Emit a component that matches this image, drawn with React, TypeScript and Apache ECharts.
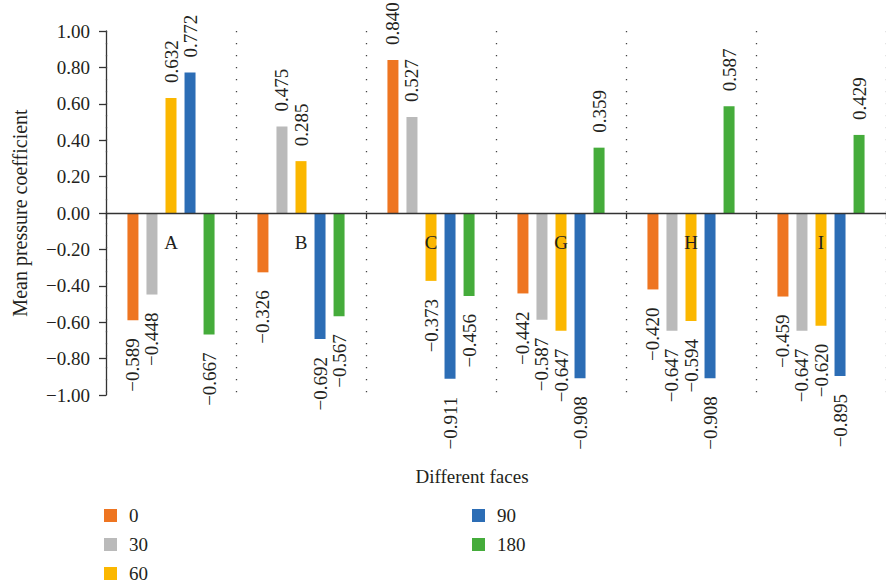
import React, { useEffect, useRef } from "react";
import * as echarts from "echarts";

const categories = ["A", "B", "C", "G", "H", "I"];
const seriesNames = ["0", "30", "60", "90", "180"];
const values0 = [-0.589, -0.326, 0.84, -0.442, -0.42, -0.459];
const values30 = [-0.448, 0.475, 0.527, -0.587, -0.647, -0.647];
const values60 = [0.632, 0.285, -0.373, -0.647, -0.594, -0.62];
const values90 = [0.772, -0.692, -0.911, -0.908, -0.908, -0.895];
const values180 = [-0.667, -0.567, -0.456, 0.359, 0.587, 0.429];
const yTicks = { min: -1, max: 1, interval: 0.2 };

const colors = ["#EE7521", "#BABABA", "#FBB700", "#2C6DB5", "#45AC3B"];
const FONT = "'Liberation Serif', 'Times New Roman', serif";
const TXT = "#231f20";

const fmt = (v: number, d: number) => {
  const s = Math.abs(v).toFixed(d);
  return v < 0 ? "\u2212" + s : s;
};

export default function App() {
  const ref = useRef<HTMLDivElement>(null);
  useEffect(() => {
    if (!ref.current) return;
    const chart = echarts.init(ref.current, undefined, { renderer: "svg" });
    const all = [values0, values30, values60, values90, values180];
    const posLabel = {
      show: true,
      position: "top",
      rotate: 90,
      align: "left",
      verticalAlign: "middle",
      distance: 15,
    };
    const negLabel = {
      show: true,
      position: "bottom",
      rotate: 90,
      align: "right",
      verticalAlign: "middle",
      distance: 18,
    };
    const series = all.map((vals, i) => ({
      name: seriesNames[i],
      type: "bar",
      barWidth: 11,
      barGap: "73%",
      itemStyle: { color: colors[i] },
      label: {
        fontFamily: FONT,
        fontSize: 19,
        color: TXT,
        formatter: (p: any) => fmt(p.value, 3),
      },
      data: vals.map((v) => ({ value: v, label: v >= 0 ? posLabel : negLabel })),
    }));
    const legendCommon = {
      orient: "vertical",
      icon: "rect",
      padding: 0,
      itemWidth: 13,
      itemHeight: 13,
      itemGap: 10,
      textStyle: {
        fontFamily: FONT,
        fontSize: 19,
        lineHeight: 19,
        color: TXT,
        padding: [0, 0, 0, 7],
      },
    };
    chart.setOption({
      animation: false,
      grid: { left: 106, top: 31, width: 790, height: 364 },
      legend: [
        { ...legendCommon, data: ["0", "30", "60"], left: 104, top: 506 },
        { ...legendCommon, data: ["90", "180"], left: 472, top: 506 },
      ],
      xAxis: {
        type: "category",
        data: categories,
        z: 5,
        axisLine: { onZero: true, lineStyle: { color: "#333", width: 1.3 } },
        axisTick: {
          show: true,
          alignWithLabel: false,
          interval: 0,
          length: 6,
          lineStyle: { color: "#333", width: 1.3 },
        },
        axisLabel: {
          interval: 0,
          margin: -162,
          fontFamily: FONT,
          fontSize: 19,
          color: TXT,
        },
        splitLine: {
          show: true,
          interval: 0,
          lineStyle: { color: "#444", width: 1.3, type: [1.3, 10.7] },
        },
      },
      yAxis: {
        type: "value",
        min: yTicks.min,
        max: yTicks.max,
        interval: yTicks.interval,
        axisLine: { show: true, lineStyle: { color: "#333", width: 1.3 } },
        axisTick: { show: true, length: 7, lineStyle: { color: "#333", width: 1.3 } },
        axisLabel: {
          margin: 16,
          fontFamily: FONT,
          fontSize: 19,
          color: TXT,
          formatter: (v: number) => fmt(v, 2),
        },
        splitLine: { show: false },
      },
      graphic: [
        {
          type: "text",
          x: 20,
          y: 213,
          rotation: Math.PI / 2,
          style: {
            text: "Mean pressure coefficient",
            font: `20px ${FONT}`,
            fill: TXT,
            align: "center",
            verticalAlign: "middle",
          },
        },
        {
          type: "text",
          x: 472,
          y: 476,
          style: {
            text: "Different faces",
            font: `19px ${FONT}`,
            fill: TXT,
            align: "center",
            verticalAlign: "middle",
          },
        },
      ],
      series,
    });
    return () => chart.dispose();
  }, []);
  return (
    <div
      ref={ref}
      style={{ position: "absolute", left: 0, top: 0, width: 886, height: 586 }}
    />
  );
}
